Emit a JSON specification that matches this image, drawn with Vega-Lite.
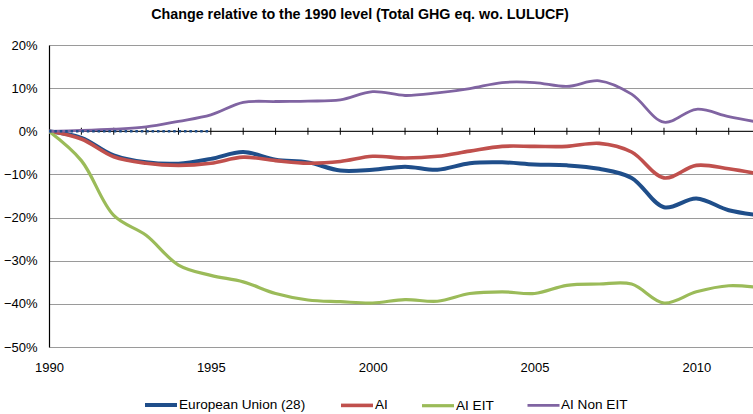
{
  "$schema": "https://vega.github.io/schema/vega-lite/v6.json",
  "width": 704,
  "height": 302,
  "autosize": "none",
  "padding": {"left": 49, "top": 45, "right": 0, "bottom": 67},
  "background": "white",
  "title": {"text": "Change relative to the 1990 level (Total GHG eq. wo. LULUCF)", "fontSize": 14.3, "fontWeight": "bold", "font": "Liberation Sans", "anchor": "middle", "dx": -41, "offset": 17, "color": "black"},
  "config": {
    "view": {"stroke": null},
    "font": "Liberation Sans",
    "axis": {"labelFont": "Liberation Sans", "labelFontSize": 13, "labelColor": "black", "title": null}
  },
  "datasets": {
    "series": [
      {"series": "European Union (28)", "year": 1990, "value": 0},
      {"series": "European Union (28)", "year": 1991, "value": -0.015},
      {"series": "European Union (28)", "year": 1992, "value": -0.056},
      {"series": "European Union (28)", "year": 1993, "value": -0.072},
      {"series": "European Union (28)", "year": 1994, "value": -0.075},
      {"series": "European Union (28)", "year": 1995, "value": -0.064},
      {"series": "European Union (28)", "year": 1996, "value": -0.048},
      {"series": "European Union (28)", "year": 1997, "value": -0.066},
      {"series": "European Union (28)", "year": 1998, "value": -0.072},
      {"series": "European Union (28)", "year": 1999, "value": -0.091},
      {"series": "European Union (28)", "year": 2000, "value": -0.089},
      {"series": "European Union (28)", "year": 2001, "value": -0.082},
      {"series": "European Union (28)", "year": 2002, "value": -0.089},
      {"series": "European Union (28)", "year": 2003, "value": -0.074},
      {"series": "European Union (28)", "year": 2004, "value": -0.072},
      {"series": "European Union (28)", "year": 2005, "value": -0.077},
      {"series": "European Union (28)", "year": 2006, "value": -0.079},
      {"series": "European Union (28)", "year": 2007, "value": -0.087},
      {"series": "European Union (28)", "year": 2008, "value": -0.108},
      {"series": "European Union (28)", "year": 2009, "value": -0.176},
      {"series": "European Union (28)", "year": 2010, "value": -0.156},
      {"series": "European Union (28)", "year": 2011, "value": -0.183},
      {"series": "European Union (28)", "year": 2012, "value": -0.195},
      {"series": "AI", "year": 1990, "value": 0},
      {"series": "AI", "year": 1991, "value": -0.018},
      {"series": "AI", "year": 1992, "value": -0.059},
      {"series": "AI", "year": 1993, "value": -0.074},
      {"series": "AI", "year": 1994, "value": -0.079},
      {"series": "AI", "year": 1995, "value": -0.074},
      {"series": "AI", "year": 1996, "value": -0.060},
      {"series": "AI", "year": 1997, "value": -0.068},
      {"series": "AI", "year": 1998, "value": -0.074},
      {"series": "AI", "year": 1999, "value": -0.070},
      {"series": "AI", "year": 2000, "value": -0.058},
      {"series": "AI", "year": 2001, "value": -0.062},
      {"series": "AI", "year": 2002, "value": -0.058},
      {"series": "AI", "year": 2003, "value": -0.046},
      {"series": "AI", "year": 2004, "value": -0.035},
      {"series": "AI", "year": 2005, "value": -0.035},
      {"series": "AI", "year": 2006, "value": -0.035},
      {"series": "AI", "year": 2007, "value": -0.028},
      {"series": "AI", "year": 2008, "value": -0.048},
      {"series": "AI", "year": 2009, "value": -0.108},
      {"series": "AI", "year": 2010, "value": -0.079},
      {"series": "AI", "year": 2011, "value": -0.087},
      {"series": "AI", "year": 2012, "value": -0.100},
      {"series": "AI EIT", "year": 1990, "value": 0},
      {"series": "AI EIT", "year": 1991, "value": -0.068},
      {"series": "AI EIT", "year": 1992, "value": -0.195},
      {"series": "AI EIT", "year": 1993, "value": -0.241},
      {"series": "AI EIT", "year": 1994, "value": -0.310},
      {"series": "AI EIT", "year": 1995, "value": -0.334},
      {"series": "AI EIT", "year": 1996, "value": -0.349},
      {"series": "AI EIT", "year": 1997, "value": -0.376},
      {"series": "AI EIT", "year": 1998, "value": -0.391},
      {"series": "AI EIT", "year": 1999, "value": -0.395},
      {"series": "AI EIT", "year": 2000, "value": -0.398},
      {"series": "AI EIT", "year": 2001, "value": -0.390},
      {"series": "AI EIT", "year": 2002, "value": -0.394},
      {"series": "AI EIT", "year": 2003, "value": -0.376},
      {"series": "AI EIT", "year": 2004, "value": -0.372},
      {"series": "AI EIT", "year": 2005, "value": -0.376},
      {"series": "AI EIT", "year": 2006, "value": -0.357},
      {"series": "AI EIT", "year": 2007, "value": -0.354},
      {"series": "AI EIT", "year": 2008, "value": -0.354},
      {"series": "AI EIT", "year": 2009, "value": -0.398},
      {"series": "AI EIT", "year": 2010, "value": -0.372},
      {"series": "AI EIT", "year": 2011, "value": -0.358},
      {"series": "AI EIT", "year": 2012, "value": -0.363},
      {"series": "AI Non EIT", "year": 1990, "value": 0},
      {"series": "AI Non EIT", "year": 1991, "value": 0.002},
      {"series": "AI Non EIT", "year": 1992, "value": 0.005},
      {"series": "AI Non EIT", "year": 1993, "value": 0.010},
      {"series": "AI Non EIT", "year": 1994, "value": 0.023},
      {"series": "AI Non EIT", "year": 1995, "value": 0.038},
      {"series": "AI Non EIT", "year": 1996, "value": 0.067},
      {"series": "AI Non EIT", "year": 1997, "value": 0.069},
      {"series": "AI Non EIT", "year": 1998, "value": 0.070},
      {"series": "AI Non EIT", "year": 1999, "value": 0.073},
      {"series": "AI Non EIT", "year": 2000, "value": 0.092},
      {"series": "AI Non EIT", "year": 2001, "value": 0.083},
      {"series": "AI Non EIT", "year": 2002, "value": 0.089},
      {"series": "AI Non EIT", "year": 2003, "value": 0.099},
      {"series": "AI Non EIT", "year": 2004, "value": 0.113},
      {"series": "AI Non EIT", "year": 2005, "value": 0.113},
      {"series": "AI Non EIT", "year": 2006, "value": 0.104},
      {"series": "AI Non EIT", "year": 2007, "value": 0.117},
      {"series": "AI Non EIT", "year": 2008, "value": 0.086},
      {"series": "AI Non EIT", "year": 2009, "value": 0.021},
      {"series": "AI Non EIT", "year": 2010, "value": 0.051},
      {"series": "AI Non EIT", "year": 2011, "value": 0.034},
      {"series": "AI Non EIT", "year": 2012, "value": 0.020}
    ],
    "ticks": [
      {"year": 1990, "value": 0}, {"year": 1991, "value": 0}, {"year": 1992, "value": 0}, {"year": 1993, "value": 0},
      {"year": 1994, "value": 0}, {"year": 1995, "value": 0}, {"year": 1996, "value": 0}, {"year": 1997, "value": 0},
      {"year": 1998, "value": 0}, {"year": 1999, "value": 0}, {"year": 2000, "value": 0}, {"year": 2001, "value": 0},
      {"year": 2002, "value": 0}, {"year": 2003, "value": 0}, {"year": 2004, "value": 0}, {"year": 2005, "value": 0},
      {"year": 2006, "value": 0}, {"year": 2007, "value": 0}, {"year": 2008, "value": 0}, {"year": 2009, "value": 0},
      {"year": 2010, "value": 0}, {"year": 2011, "value": 0}, {"year": 2012, "value": 0}
    ],
    "dots": [
      {"year": 1990, "value": 0}, {"year": 1991, "value": 0}, {"year": 1992, "value": 0},
      {"year": 1993, "value": 0}, {"year": 1994, "value": 0}, {"year": 1995, "value": 0}
    ]
  },
  "encoding": {
    "x": {
      "field": "year", "type": "quantitative",
      "scale": {"domain": [1990, 2011.75], "nice": false, "zero": false},
      "axis": {"values": [1990, 1995, 2000, 2005, 2010], "format": "d", "grid": false, "ticks": false, "domain": false, "labelPadding": 14, "labelFlush": false}
    },
    "y": {
      "field": "value", "type": "quantitative",
      "scale": {"domain": [-0.5, 0.2], "nice": false, "zero": false},
      "axis": {"values": [-0.5, -0.4, -0.3, -0.2, -0.1, 0, 0.1, 0.2], "format": ".0%", "grid": true, "gridColor": "#9a9a9a", "gridWidth": 1, "ticks": false, "domain": true, "domainColor": "black", "domainWidth": 1.2, "labelPadding": 12}
    }
  },
  "layer": [
    {
      "data": {"name": "ticks"},
      "mark": {"type": "line", "color": "black", "strokeWidth": 1, "clip": true},
      "encoding": {}
    },
    {
      "data": {"name": "ticks"},
      "mark": {"type": "tick", "orient": "vertical", "color": "black", "size": 7, "thickness": 1, "opacity": 1, "clip": true},
      "encoding": {}
    },
    {
      "data": {"name": "series"},
      "mark": {"type": "line", "interpolate": "catmull-rom", "clip": true},
      "encoding": {
        "color": {
          "field": "series", "type": "nominal",
          "scale": {"domain": ["European Union (28)", "AI", "AI EIT", "AI Non EIT"], "range": ["#1F4E8A", "#C0504D", "#9BBB59", "#8064A2"]},
          "legend": {"title": null, "orient": "none", "legendX": 94, "legendY": 342, "padding": 0, "direction": "horizontal", "symbolType": "stroke", "symbolSize": 1024, "symbolStrokeWidth": 3, "symbolOpacity": 1, "labelFontSize": 13.6, "labelFont": "Liberation Sans", "labelColor": "black", "labelOffset": 0, "columnPadding": 27, "labelLimit": 300}
        },
        "strokeWidth": {
          "field": "series", "type": "nominal",
          "scale": {"domain": ["European Union (28)", "AI", "AI EIT", "AI Non EIT"], "range": [4, 2.8, 2.6, 2.8]},
          "legend": null
        }
      }
    },
    {
      "data": {"name": "dots"},
      "mark": {"type": "line", "color": "#1F4E8A", "strokeWidth": 2.5, "strokeDash": [2.5, 2.9], "clip": true},
      "encoding": {}
    }
  ]
}
